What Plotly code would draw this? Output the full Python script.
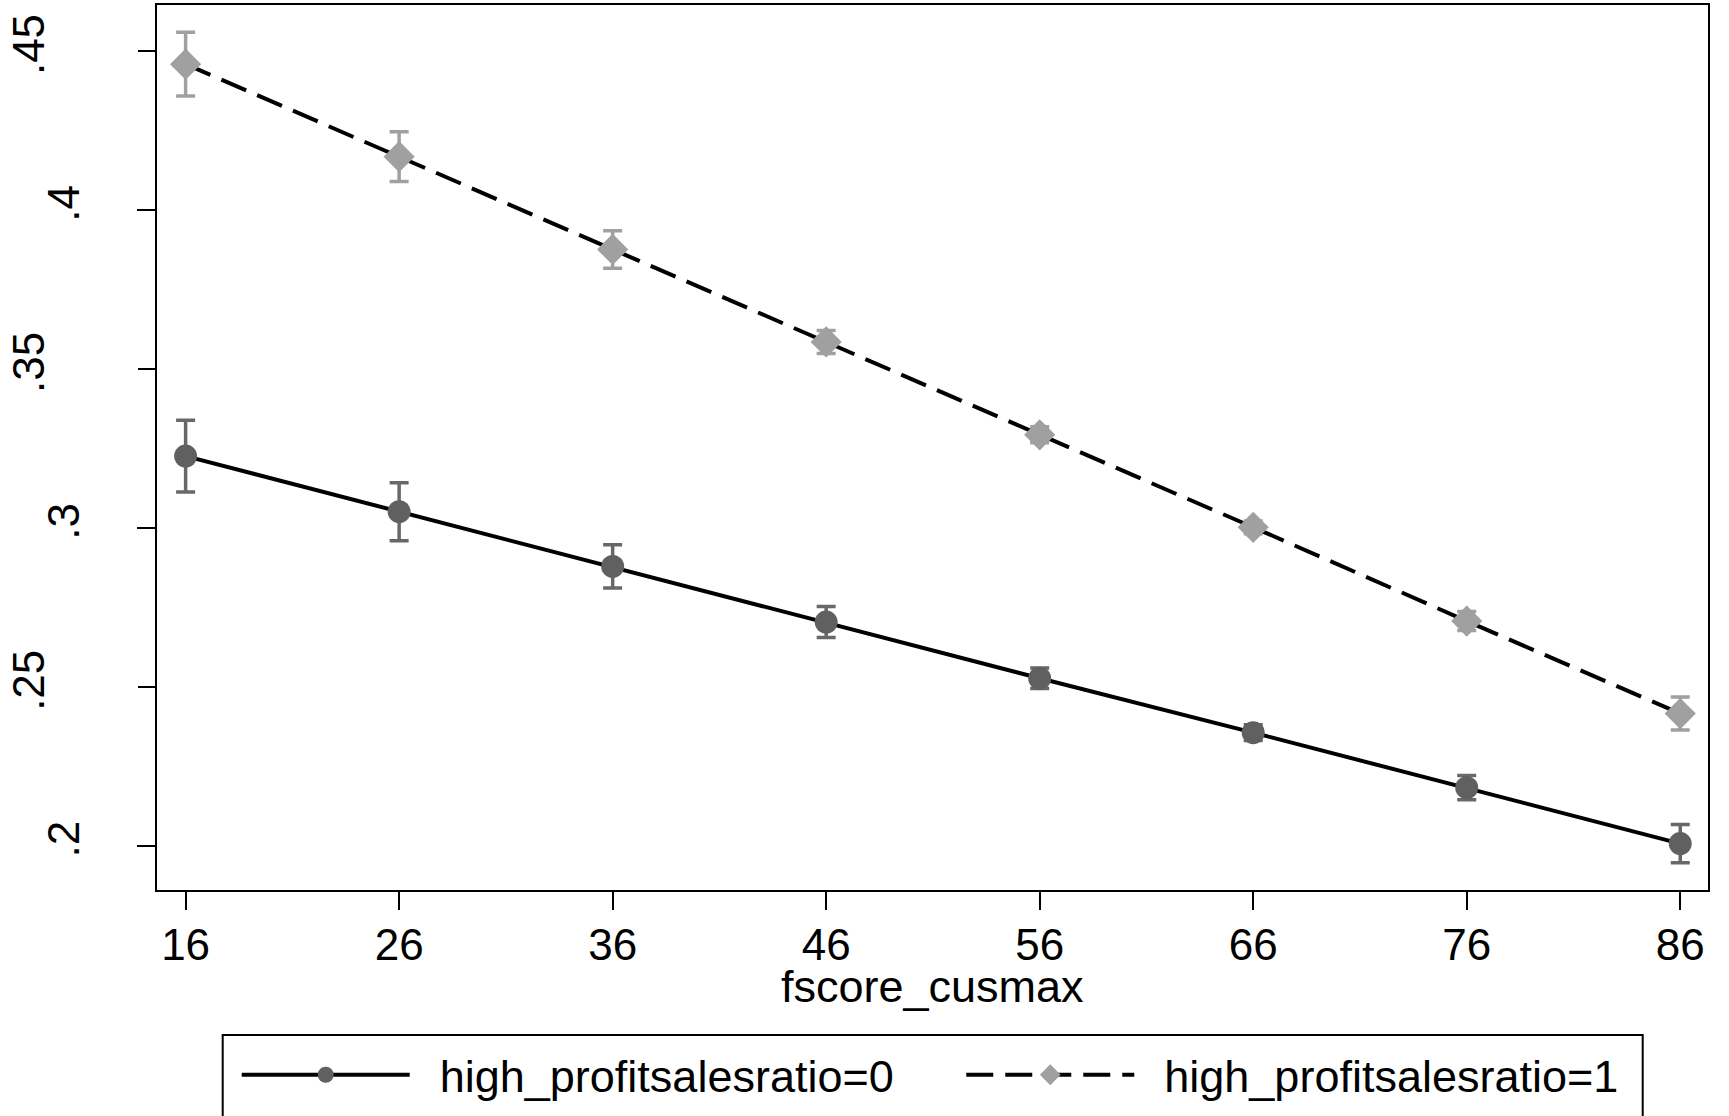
import plotly.graph_objects as go

# ---- data ----
fscore = [16, 26, 36, 46, 56, 66, 76, 86]
xtick_vals = [16, 26, 36, 46, 56, 66, 76, 86]

y_low = [0.3226, 0.3051, 0.2879, 0.2704, 0.2527, 0.2356, 0.2183, 0.2007]
ci_low = [0.0113, 0.0091, 0.0068, 0.0049, 0.0032, 0.0025, 0.0038, 0.0060]

y_high = [0.4459, 0.4168, 0.3876, 0.3585, 0.3293, 0.3002, 0.2707, 0.2416]
ci_high = [0.0100, 0.0078, 0.0059, 0.0036, 0.0025, 0.0020, 0.0030, 0.0052]

ytick_a_vals = [0.2, 0.3, 0.4]
ytick_a_text = [".2", ".3", ".4"]
ytick_b_vals = [0.25, 0.35, 0.45]
ytick_b_text = [".25", ".35", ".45"]

name_low = "high_profitsalesratio=0"
name_high = "high_profitsalesratio=1"
x_title = "fscore_cusmax"

FONT = "Liberation Sans, Arial, Helvetica, sans-serif"
NB = "\u00a0"

fig = go.Figure()
fig.add_trace(go.Scatter(
    x=fscore, y=y_low, name=NB * 2 + name_low + NB * 5,
    mode="lines+markers",
    line=dict(color="black", width=4),
    marker=dict(symbol="circle", size=23, color="#606060"),
    error_y=dict(type="data", array=ci_low, color="#686868", thickness=3.5, width=9.5),
))
fig.add_trace(go.Scatter(
    x=fscore, y=y_high, name=NB * 2 + name_high,
    mode="lines+markers",
    line=dict(color="black", width=4, dash="27px,12px"),
    marker=dict(symbol="diamond", size=24, color="#a0a0a0"),
    error_y=dict(type="data", array=ci_high, color="#a0a0a0", thickness=3.5, width=9.5),
))
# empty helper trace so the second (label) y axis is drawn
fig.add_trace(go.Scatter(x=[], y=[], yaxis="y2", showlegend=False, hoverinfo="skip"))

yrange = [0.1861, 0.4645]
axis_common = dict(
    showgrid=False, zeroline=False,
    ticks="outside", ticklen=18, tickwidth=2, tickcolor="black",
    tickfont=dict(family=FONT, size=44, color="black"),
)

# plot-area pixel box, used to place the legend frame and title
PL, PR, PT, PB = 157, 1708, 5, 890
def fx(px):
    return (px - PL) / (PR - PL)
def fy(py):
    return (PB - py) / (PB - PT)

fig.update_layout(
    width=1729, height=1116,
    margin=dict(l=157, r=21, t=5, b=226, autoexpand=False),
    paper_bgcolor="white", plot_bgcolor="white",
    font=dict(family=FONT, size=44, color="black"),
    showlegend=True,
    xaxis=dict(
        range=[14.66, 87.3], tickmode="array", tickvals=xtick_vals,
        ticktext=[str(v) for v in xtick_vals], ticklabelstandoff=-3,
        showline=True, linecolor="black", linewidth=2, mirror=True,
        **axis_common,
    ),
    yaxis=dict(
        range=yrange, tickmode="array", tickvals=ytick_a_vals, ticktext=ytick_a_text,
        tickangle=-90, ticklabelstandoff=40,
        showline=True, linecolor="black", linewidth=2, mirror=True,
        **axis_common,
    ),
    yaxis2=dict(
        range=yrange, overlaying="y", side="left", anchor="x",
        tickmode="array", tickvals=ytick_b_vals, ticktext=ytick_b_text,
        tickangle=-90, ticklabelstandoff=76, showline=False,
        **axis_common,
    ),
    legend=dict(
        orientation="h", x=fx(236.7), y=fy(1039), xanchor="left", yanchor="top",
        bgcolor="rgba(0,0,0,0)", borderwidth=0,
        font=dict(family=FONT, size=45, color="black"),
        itemwidth=168,
    ),
    shapes=[dict(
        type="rect", xref="paper", yref="paper",
        x0=fx(222.7), x1=fx(1642.7), y0=fy(1035), y1=fy(1180),
        line=dict(color="black", width=2), fillcolor="rgba(0,0,0,0)", layer="below",
    )],
    annotations=[dict(
        text=x_title, xref="paper", yref="paper", x=0.5, y=fy(986),
        xanchor="center", yanchor="middle", showarrow=False,
        font=dict(family=FONT, size=45, color="black"),
    )],
)

fig.write_html("out.html", config={"displayModeBar": False},
               post_script="document.body.style.margin='0';")
